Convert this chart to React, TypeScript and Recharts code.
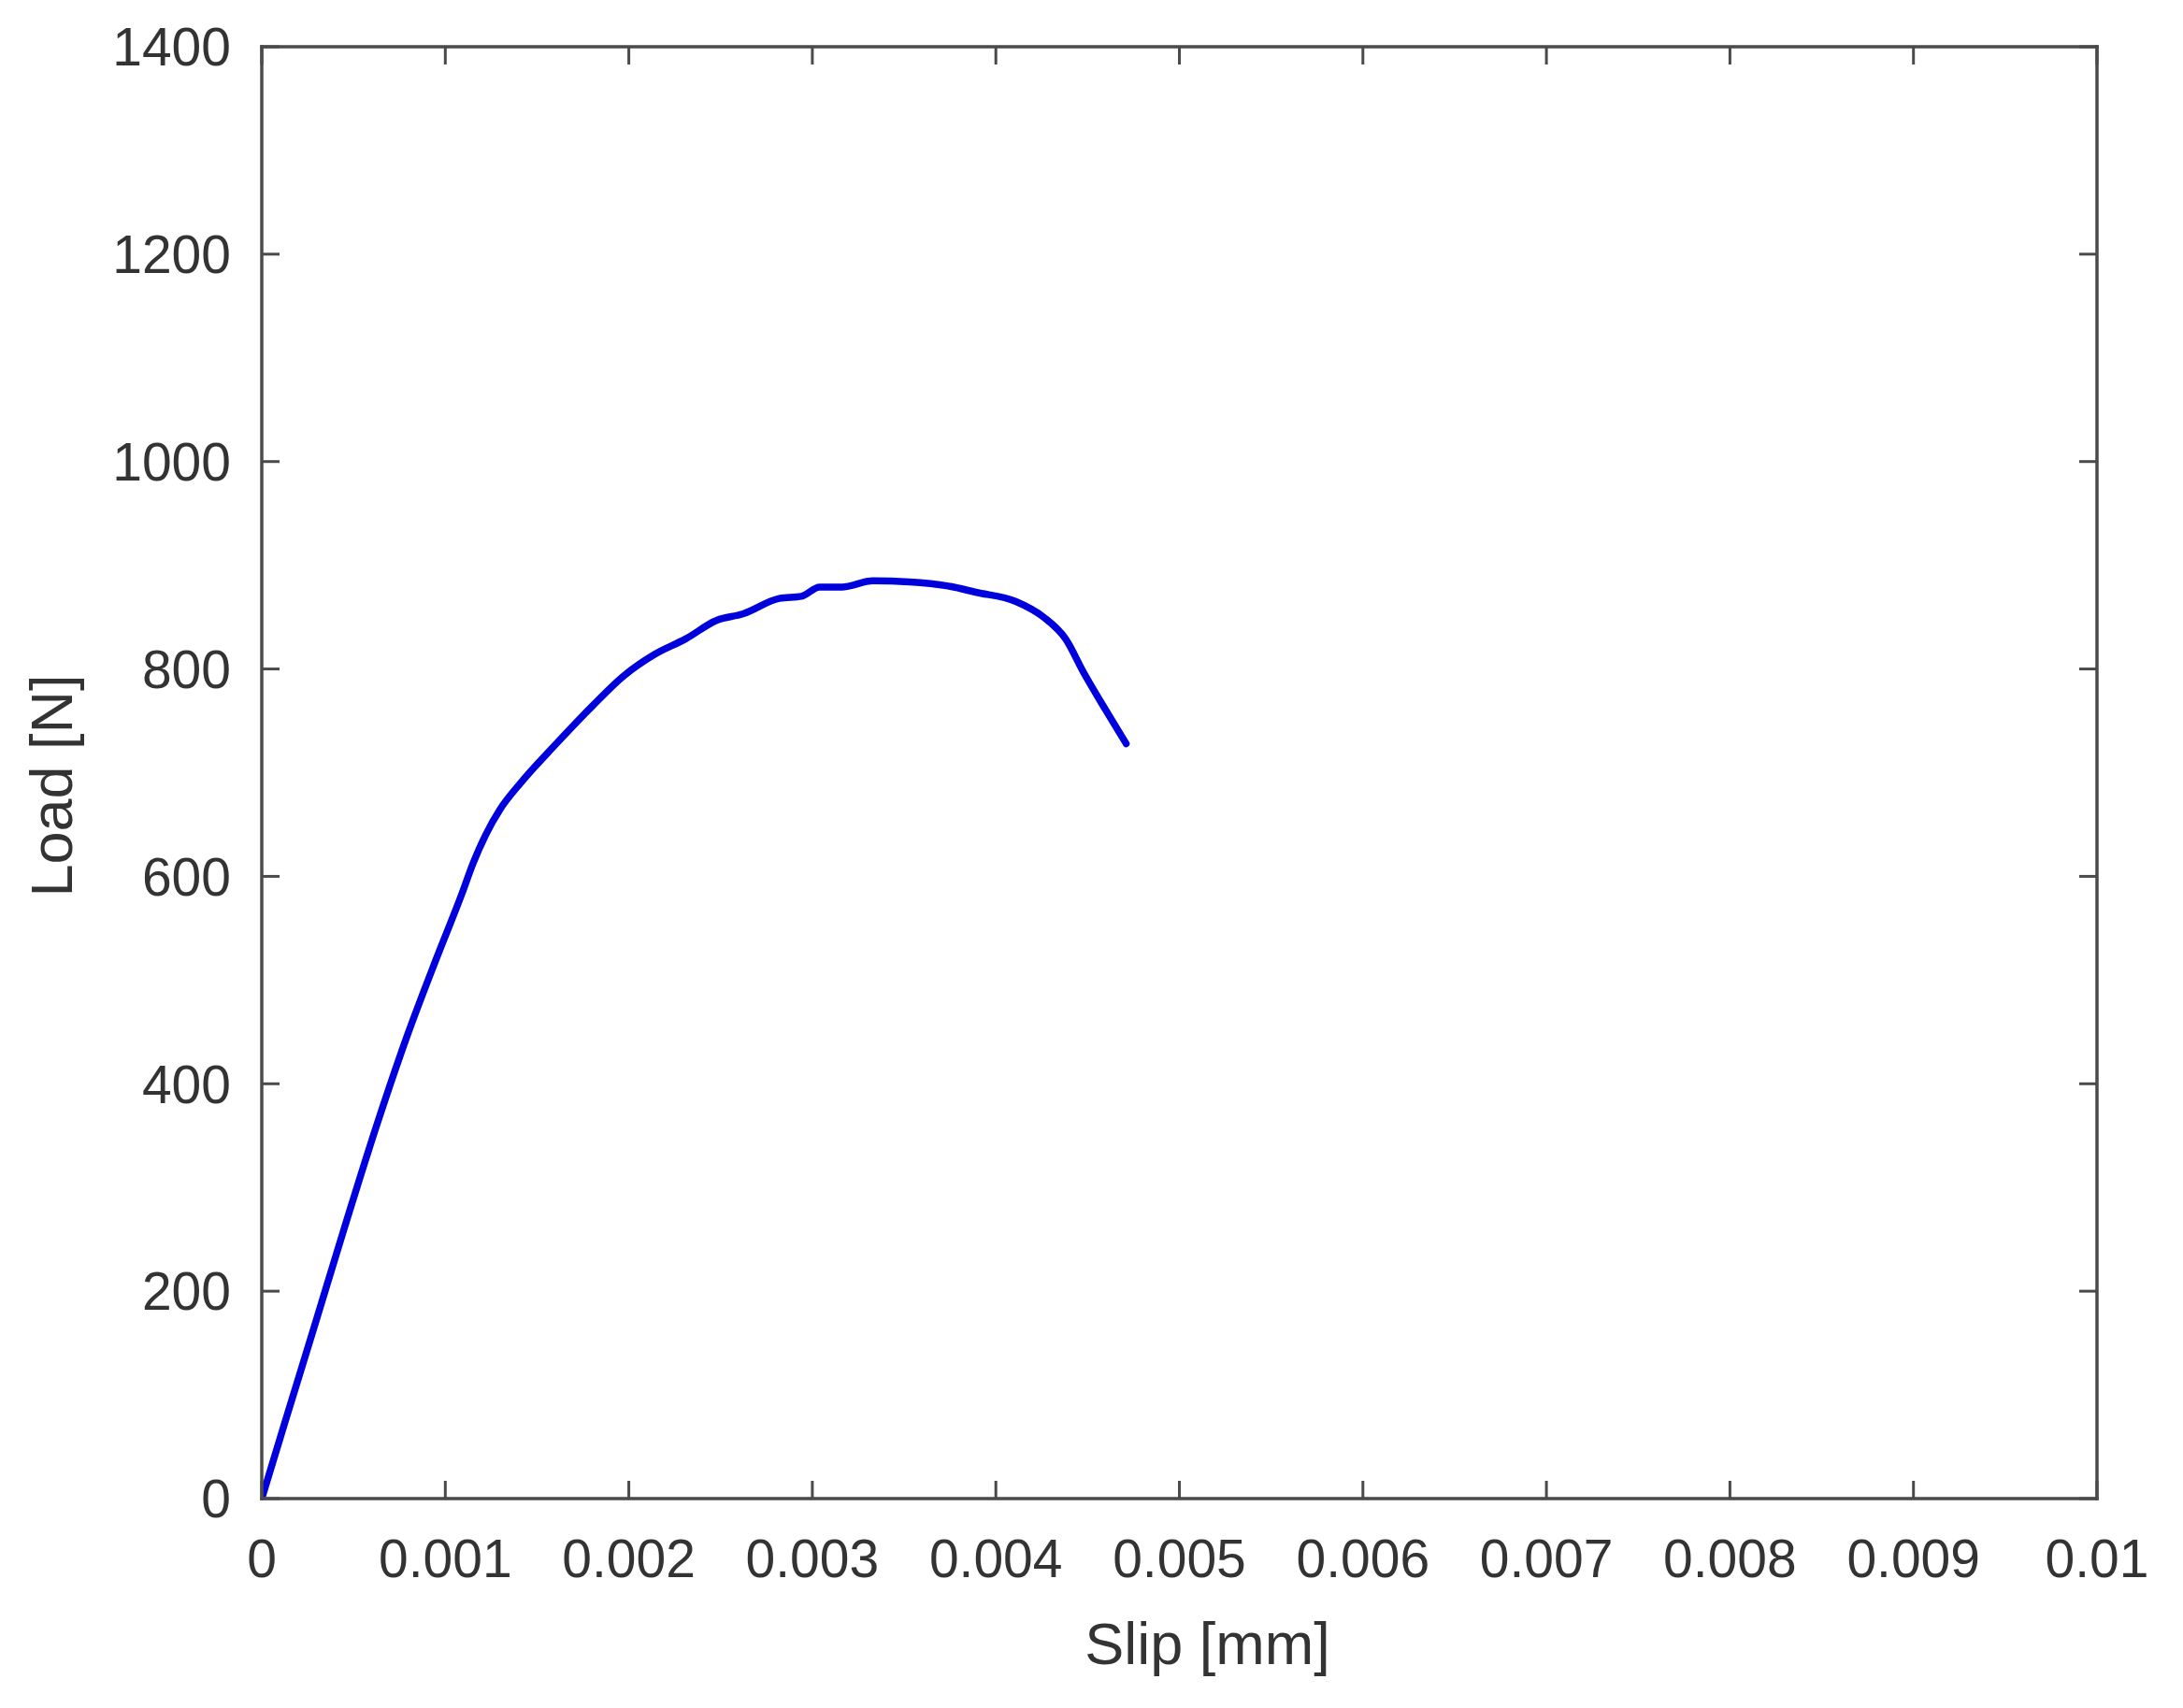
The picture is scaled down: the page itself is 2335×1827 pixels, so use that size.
import React from 'react';
import { LineChart, Line, XAxis, YAxis } from 'recharts';

// ---- data ----
const slipMm = [0, 0.00012, 0.00029, 0.00045, 0.00063, 0.0008, 0.00095, 0.00109, 0.00115, 0.00122, 0.0013, 0.00141, 0.0016, 0.0018, 0.00197, 0.00214, 0.00231, 0.00248, 0.00262, 0.00282, 0.00294, 0.00304, 0.00316, 0.00333, 0.00353, 0.00374, 0.00389, 0.00411, 0.00426, 0.00438, 0.00448, 0.0046, 0.00471];
const loadN = [0, 70, 168, 261, 362, 450, 520, 583, 612, 640, 665, 690, 727, 764, 793, 814, 829, 847, 853, 868, 870, 879, 879, 885, 884, 880, 874, 865, 850, 829, 796, 760, 728];

const xTicks = [0, 0.001, 0.002, 0.003, 0.004, 0.005, 0.006, 0.007, 0.008, 0.009, 0.01];
const xTickLabels = ['0', '0.001', '0.002', '0.003', '0.004', '0.005', '0.006', '0.007', '0.008', '0.009', '0.01'];
const yTicks = [0, 200, 400, 600, 800, 1000, 1200, 1400];
const yTickLabels = ['0', '200', '400', '600', '800', '1000', '1200', '1400'];

const xLabel = 'Slip [mm]';
const yLabel = 'Load [N]';

const data = slipMm.map((s, i) => ({ slip: s, load: loadN[i] }));

// ---- styling ----
const AXIS = '#4a4a4a';
const TEXT = '#333333';
const FONT = '"Liberation Sans", Arial, sans-serif';
const TICK_FS = 57;
const LABEL_FS = 63;
const TICK_LEN = 19;
const X_MARGIN = 44;
const Y_MARGIN = 33;

const xLab = (v: number) => {
  const i = xTicks.indexOf(v);
  return i >= 0 ? xTickLabels[i] : String(v);
};
const yLab = (v: number) => {
  const i = yTicks.indexOf(v);
  return i >= 0 ? yTickLabels[i] : String(v);
};

const BottomTick = (props: any) => {
  const { x, y, payload } = props;
  const axisY = y - X_MARGIN;
  return (
    <g>
      <line x1={x} x2={x} y1={axisY} y2={axisY - TICK_LEN} stroke={AXIS} strokeWidth={3} />
      <text x={x} y={y} dy="0.71em" textAnchor="middle" fill={TEXT} fontSize={TICK_FS} fontFamily={FONT}>
        {xLab(payload.value)}
      </text>
    </g>
  );
};

const TopTick = (props: any) => {
  const { x, y } = props;
  return <line x1={x} x2={x} y1={y} y2={y + TICK_LEN} stroke={AXIS} strokeWidth={3} />;
};

const LeftTick = (props: any) => {
  const { x, y, payload } = props;
  const axisX = x + Y_MARGIN;
  return (
    <g>
      <line x1={axisX} x2={axisX + TICK_LEN} y1={y} y2={y} stroke={AXIS} strokeWidth={3} />
      <text x={x} y={y} dy="0.355em" textAnchor="end" fill={TEXT} fontSize={TICK_FS} fontFamily={FONT}>
        {yLab(payload.value)}
      </text>
    </g>
  );
};

const RightTick = (props: any) => {
  const { x, y } = props;
  return <line x1={x} x2={x - TICK_LEN} y1={y} y2={y} stroke={AXIS} strokeWidth={3} />;
};

const XLabel = (props: any) => {
  const vb = props.viewBox || { x: 0, y: 0, width: 0, height: 0 };
  const cx = vb.x + vb.width / 2 + 30;
  return (
    <text x={cx} y={vb.y + 177} textAnchor="middle" fill={TEXT} fontSize={LABEL_FS} fontFamily={FONT}>
      {xLabel}
    </text>
  );
};

const YLabel = (props: any) => {
  const vb = props.viewBox || { x: 0, y: 0, width: 0, height: 0 };
  const tx = vb.x - 23;
  const ty = vb.y + vb.height / 2 + 14;
  return (
    <text x={tx} y={ty} textAnchor="middle" transform={`rotate(-90, ${tx}, ${ty})`} fill={TEXT} fontSize={LABEL_FS} fontFamily={FONT}>
      {yLabel}
    </text>
  );
};

const axisLineStyle = { stroke: AXIS, strokeWidth: 3.5, strokeLinecap: 'square' as const };

export default function App() {
  return (
    <div style={{ width: 2327, height: 1819, background: '#fff' }}>
      <LineChart width={2327} height={1819} data={data} margin={{ top: 41, right: 91, bottom: 124, left: 92 }}>
        <XAxis
          dataKey="slip"
          type="number"
          domain={[0, 0.01]}
          ticks={xTicks}
          interval={0}
          allowDataOverflow
          height={100}
          tickSize={0}
          tickMargin={X_MARGIN}
          tickLine={false}
          axisLine={axisLineStyle}
          tick={<BottomTick />}
          label={<XLabel />}
        />
        <XAxis
          xAxisId="top"
          orientation="top"
          dataKey="slip"
          type="number"
          domain={[0, 0.01]}
          ticks={xTicks}
          interval={0}
          allowDataOverflow
          height={1}
          tickSize={0}
          tickMargin={0}
          tickLine={false}
          axisLine={axisLineStyle}
          tick={<TopTick />}
        />
        <YAxis
          type="number"
          domain={[0, 1400]}
          ticks={yTicks}
          interval={0}
          allowDataOverflow
          width={180}
          tickSize={0}
          tickMargin={Y_MARGIN}
          tickLine={false}
          axisLine={axisLineStyle}
          tick={<LeftTick />}
          label={<YLabel />}
        />
        <YAxis
          yAxisId="right"
          orientation="right"
          type="number"
          domain={[0, 1400]}
          ticks={yTicks}
          interval={0}
          allowDataOverflow
          width={1}
          tickSize={0}
          tickMargin={0}
          tickLine={false}
          axisLine={axisLineStyle}
          tick={<RightTick />}
        />
        <Line
          type="monotone"
          dataKey="load"
          stroke="#0000dd"
          strokeWidth={7.5}
          strokeLinejoin="round"
          strokeLinecap="round"
          dot={false}
          activeDot={false}
          isAnimationActive={false}
        />
      </LineChart>
    </div>
  );
}
